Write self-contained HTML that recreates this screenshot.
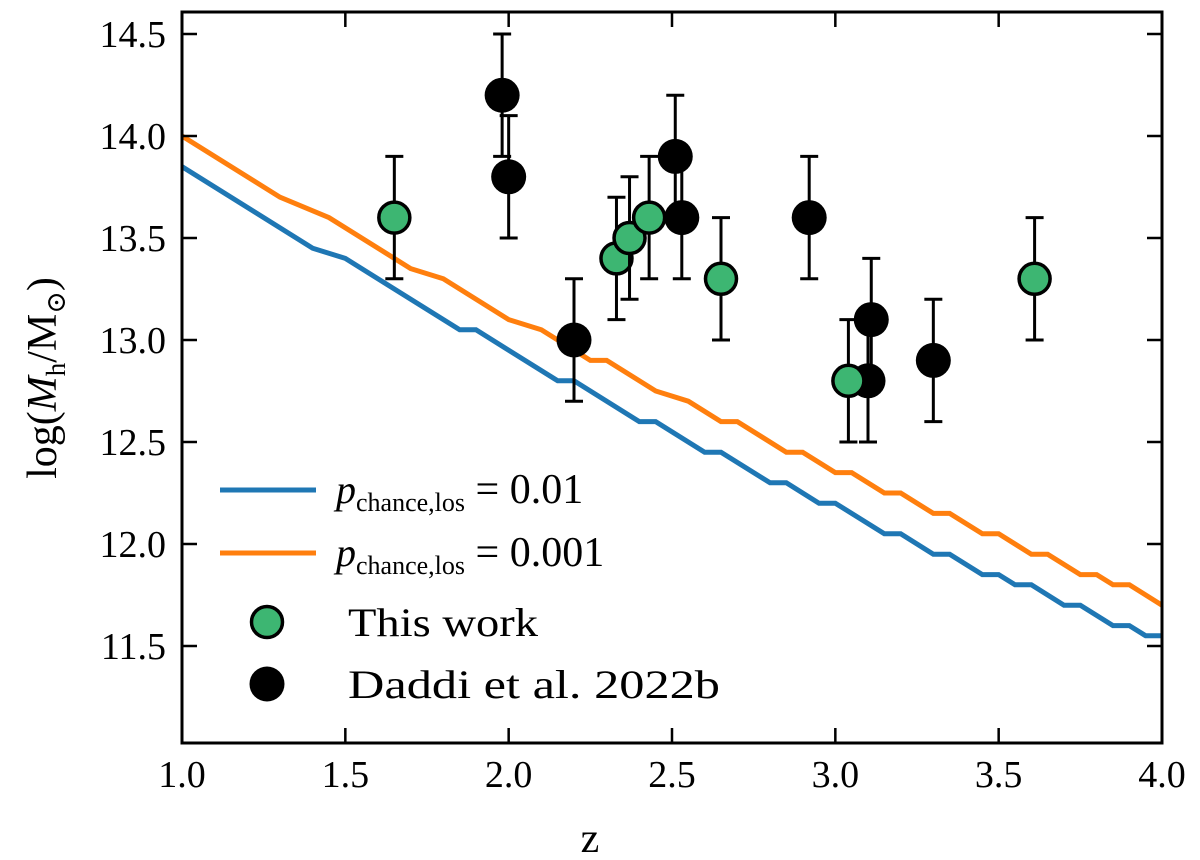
<!DOCTYPE html>
<html><head><meta charset="utf-8"><style>
body{margin:0;background:#fff;}
svg{display:block;font-family:"Liberation Serif","DejaVu Serif",serif;}
</style></head><body>
<svg id="chart" width="1200" height="860" viewBox="0 0 1200 860">
<g id="plot"></g>
</svg>
<script>
const blueZ=[1.0,1.4,1.5,1.85,1.9,2.15,2.2,2.4,2.45,2.6,2.65,2.8,2.85,2.95,3.0,3.15,3.2,3.3,3.35,3.45,3.5,3.55,3.6,3.7,3.75,3.85,3.9,3.95,4.0];
const blueY=[13.85,13.45,13.4,13.05,13.05,12.8,12.8,12.6,12.6,12.45,12.45,12.3,12.3,12.2,12.2,12.05,12.05,11.95,11.95,11.85,11.85,11.8,11.8,11.7,11.7,11.6,11.6,11.55,11.55];
const orangeZ=[1.0,1.3,1.45,1.7,1.8,2.0,2.1,2.25,2.3,2.45,2.55,2.65,2.7,2.85,2.9,3.0,3.05,3.15,3.2,3.3,3.35,3.45,3.5,3.6,3.65,3.75,3.8,3.85,3.9,4.0];
const orangeY=[14.0,13.7,13.6,13.35,13.3,13.1,13.05,12.9,12.9,12.75,12.7,12.6,12.6,12.45,12.45,12.35,12.35,12.25,12.25,12.15,12.15,12.05,12.05,11.95,11.95,11.85,11.85,11.8,11.8,11.7];
const greenZ=[1.65,2.33,2.37,2.43,2.65,3.04,3.61];
const greenM=[13.6,13.4,13.5,13.6,13.3,12.8,13.3];
const greenErr=[0.3,0.3,0.3,0.3,0.3,0.3,0.3];
const blackZ=[1.98,2.0,2.2,2.51,2.53,2.92,3.10,3.11,3.30];
const blackM=[14.2,13.8,13.0,13.9,13.6,13.6,12.8,13.1,12.9];
const blackErr=[0.3,0.3,0.3,0.3,0.3,0.3,0.3,0.3,0.3];
const xTicks=[1.0,1.5,2.0,2.5,3.0,3.5,4.0];
const yTicks=[11.5,12.0,12.5,13.0,13.5,14.0,14.5];

const L=182,R=1162,T=12,B=743;
const X=v=>L+(v-1.0)*(R-L)/3.0;
const Y=v=>34+(14.5-v)*204;
const NS='http://www.w3.org/2000/svg';
const g=document.getElementById('plot');
function mk(tag,attrs,parent){const e=document.createElementNS(NS,tag);for(const k in attrs)e.setAttribute(k,attrs[k]);(parent||g).appendChild(e);return e;}

function line(zs,ys,color,name){
  const p=mk('polyline',{points:zs.map((z,i)=>X(z)+','+Y(ys[i])).join(' '),fill:'none',stroke:color,'stroke-width':5,'stroke-linejoin':'miter'});
  
  
}
line(blueZ,blueY,'#1f77b4','line-p-0.01');
line(orangeZ,orangeY,'#ff7f0e','line-p-0.001');

function pts(zs,ms,es,fill,edge,prefix){
  zs.forEach((z,i)=>{
    const cx=X(z),cy=Y(ms[i]),y1=Y(ms[i]+es[i]),y2=Y(ms[i]-es[i]);
    const eb=mk('path',{d:`M${cx},${y1}V${y2}M${cx-9},${y1}H${cx+9}M${cx-9},${y2}H${cx+9}`,stroke:'#000','stroke-width':3,fill:'none'});
    
    
    const c=mk('circle',{cx:cx,cy:cy,r:edge?15.5:17.5,fill:fill,stroke:'#000','stroke-width':edge?3.5:0});
    
    
  });
}
pts(blackZ,blackM,blackErr,'#000',false,'daddi');
pts(greenZ,greenM,greenErr,'#3db672',true,'this-work');

const fr=mk('rect',{x:L,y:T,width:R-L,height:B-T,fill:'none',stroke:'#000','stroke-width':3});


xTicks.forEach(v=>{
  const x=X(v);
  const t=mk('path',{d:`M${x},${B}V${B-15}M${x},${T}V${T+15}`,stroke:'#000','stroke-width':2.5});
  
  
  const lb=mk('text',{x:x,y:787,'text-anchor':'middle','font-size':38});
  lb.textContent=v.toFixed(1);
  
  
});
yTicks.forEach(v=>{
  const y=Y(v);
  const t=mk('path',{d:`M${L},${y}H${L+15}M${R},${y}H${R-15}`,stroke:'#000','stroke-width':2.5});
  
  
  const lb=mk('text',{x:166,y:y+13,'text-anchor':'end','font-size':38});
  lb.textContent=v.toFixed(1);
  
  
});
</script>
<svg width="1200" height="860" viewBox="0 0 1200 860" style="position:absolute;left:0;top:0;font-family:'Liberation Serif','DejaVu Serif',serif;">
  <text x="590" y="852" text-anchor="middle" font-size="42">z</text>
  <text transform="translate(56,378) rotate(-90)" text-anchor="middle" font-size="42">log(<tspan font-style="italic">M</tspan><tspan font-size="27" dy="9">h</tspan><tspan dy="-9">/M</tspan><tspan font-size="27" dy="9">⊙</tspan><tspan dy="-9">)</tspan></text>
  <g>
    <line x1="220" y1="490" x2="316" y2="490" stroke="#1f77b4" stroke-width="5"/>
    <text x="336" y="503" font-size="40"><tspan font-style="italic">p</tspan><tspan font-size="26" dy="8">chance,los</tspan><tspan dy="-8" font-size="42"> = 0.01</tspan></text>
    <line x1="220" y1="553" x2="316" y2="553" stroke="#ff7f0e" stroke-width="5"/>
    <text x="336" y="566" font-size="40"><tspan font-style="italic">p</tspan><tspan font-size="26" dy="8">chance,los</tspan><tspan dy="-8" font-size="42"> = 0.001</tspan></text>
    <circle cx="267" cy="622" r="15.5" fill="#3db672" stroke="#000" stroke-width="3.5"/>
    <text x="348" y="636" font-size="40" textLength="190" lengthAdjust="spacingAndGlyphs">This work</text>
    <circle cx="267" cy="684" r="17.5" fill="#000"/>
    <text x="348" y="698" font-size="40" textLength="372" lengthAdjust="spacingAndGlyphs">Daddi et al. 2022b</text>
  </g>
</svg>
</body></html>
